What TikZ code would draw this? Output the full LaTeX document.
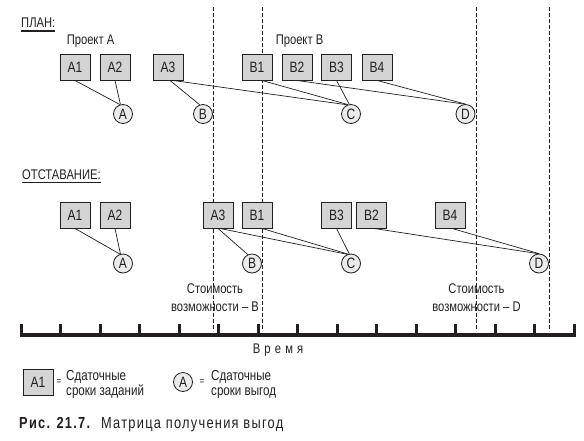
\documentclass[tikz,border=0pt]{standalone}
\usepackage{fontspec}
\setmainfont{Liberation Sans}[FakeStretch=0.8]
\definecolor{ink}{HTML}{231F20}
\definecolor{boxgray}{HTML}{D4D4D4}
\definecolor{circgray}{HTML}{EBEBEB}
\newcommand{\lblfont}{\fontsize{14}{16}\selectfont}
\newcommand{\boxfont}{\fontsize{15}{17}\selectfont}
\begin{document}
\begin{tikzpicture}[x=1pt,y=-1pt,
  every node/.style={text=ink},
  taskbox/.style={draw=ink, fill=boxgray, line width=0.9pt, minimum width=30pt, minimum height=26pt, inner sep=0pt, font=\boxfont},
  benefit/.style={circle, draw=ink, fill=circgray, line width=0.8pt, minimum size=19pt, inner sep=0pt, font=\boxfont},
  link/.style={draw=ink, line width=0.7pt},
  divider/.style={draw=ink, line width=0.9pt, dash pattern=on 3.5pt off 2.5pt},
  lbl/.style={font=\lblfont, inner sep=0pt},
  heading/.style={font=\lblfont, inner sep=0pt, anchor=base west},
  tick/.style={draw=ink, line width=3pt}
]
\useasboundingbox (0,0) rectangle (584,440);

% dashed dividers
\coordinate (d1t) at (213,7);   \coordinate (d1b) at (213,331);
\coordinate (d2t) at (262,7);   \coordinate (d2b) at (262,331);
\coordinate (d3t) at (476,7);   \coordinate (d3b) at (476,331);
\coordinate (d4t) at (549,7);   \coordinate (d4b) at (549,331);
\draw[divider] (d1t) -- (d1b);
\draw[divider] (d2t) -- (d2b);
\draw[divider] (d3t) -- (d3b);
\draw[divider] (d4t) -- (d4b);

% headings
\node[heading] (plan) at (21,27) {ПЛАН:};
\draw[ink, line width=1.4pt] ([yshift=-4pt]plan.base west) -- ([yshift=-4pt]plan.base east);
\node[heading] (lag) at (22,179) {ОТСТАВАНИЕ:};
\draw[ink, line width=1.4pt] ([yshift=-3.5pt]lag.base west) -- ([yshift=-3.5pt]lag.base east);

\node[lbl] (pA) at (90.5,41.5) {Проект A};
\node[lbl] (pB) at (299.5,41.5) {Проект B};

% plan row
\node[taskbox] (pA1) at (75,67) {A1};
\node[taskbox] (pA2) at (115,67) {A2};
\node[taskbox] (pA3) at (168,67) {A3};
\node[taskbox] (pB1) at (257,67) {B1};
\node[taskbox] (pB2) at (297,67) {B2};
\node[taskbox] (pB3) at (336.5,67) {B3};
\node[taskbox] (pB4) at (377,67) {B4};

\node[benefit] (pcA) at (123,114) {A};
\node[benefit] (pcB) at (203,114) {B};
\node[benefit] (pcC) at (351,114) {C};
\node[benefit] (pcD) at (465.5,114) {D};

\draw[link] (pA1.south) -- (pcA.108);
\draw[link] (pA2.south) -- (pcA.105);
\draw[link] ([xshift=2pt]pA3.south) -- (pcB.110);
\draw[link] ([xshift=5pt]pA3.south) -- (pcC.112);
\draw[link] ([xshift=5pt]pB1.south) -- (pcC.108);
\draw[link] (pB3.south) -- (pcC.100);
\draw[link] (pB2.south) -- (pcD.95);
\draw[link] (pB4.south) -- (pcD.90);

% lag row
\node[taskbox] (lA1) at (75,215) {A1};
\node[taskbox] (lA2) at (115,215) {A2};
\node[taskbox] (lA3) at (218,215) {A3};
\node[taskbox] (lB1) at (257,215) {B1};
\node[taskbox] (lB3) at (336.5,215) {B3};
\node[taskbox] (lB2) at (371.5,215) {B2};
\node[taskbox] (lB4) at (450,215) {B4};

\node[benefit] (lcA) at (123,263.5) {A};
\node[benefit] (lcB) at (252,263.5) {B};
\node[benefit] (lcC) at (351,263.5) {C};
\node[benefit] (lcD) at (539,263.5) {D};

\draw[link] (lA1.south) -- (lcA.108);
\draw[link] (lA2.south) -- (lcA.105);
\draw[link] (lA3.south) -- (lcB.115);
\draw[link] ([xshift=2pt]lA3.south) -- (lcC.112);
\draw[link] ([xshift=5pt]lB1.south) -- (lcC.108);
\draw[link] (lB3.south) -- (lcC.100);
\draw[link] ([xshift=2.5pt]lB2.south) -- (lcD.95);
\draw[link] ([xshift=2pt]lB4.south) -- (lcD.90);

% opportunity cost labels
\node[lbl, align=center, font=\fontsize{14}{18}\selectfont] (costB) at (215,298) {Стоимость\\возможности – B};
\node[lbl, align=center, font=\fontsize{14}{18}\selectfont] (costD) at (476.5,298) {Стоимость\\возможности – D};

% time axis
\coordinate (axL) at (19.5,335);
\coordinate (axR) at (575.5,335);
\draw[draw=ink, line width=3.5pt] (axL) -- (axR);
\foreach \i in {0,...,14}{
  \draw[tick] ({21+\i*39.5},336) -- ({21+\i*39.5},324);
}
\node[lbl] (time) at (278,350) {\addfontfeature{LetterSpace=30}Время};

% legend
\node[taskbox] (legbox) at (38,382) {A1};
\node[lbl, font=\fontsize{10}{12}\selectfont] (eq1) at (59,382) {=};
\node[lbl, align=left, anchor=west, font=\fontsize{14.5}{15}\selectfont] (legt1) at (66,384.5) {Сдаточные\\сроки заданий};
\node[benefit] (legcirc) at (183,382) {A};
\node[lbl, font=\fontsize{10}{12}\selectfont] (eq2) at (202,382) {=};
\node[lbl, align=left, anchor=west, font=\fontsize{14.5}{15}\selectfont] (legt2) at (211,384.5) {Сдаточные\\сроки выгод};

% caption
\node[inner sep=0pt, anchor=base west, font=\fontsize{16}{18}\selectfont] (cap) at (19,428.5) {\addfontfeature{LetterSpace=8}\textbf{Рис. 21.7.}\ \ Матрица получения выгод};
\end{tikzpicture}
\end{document}
